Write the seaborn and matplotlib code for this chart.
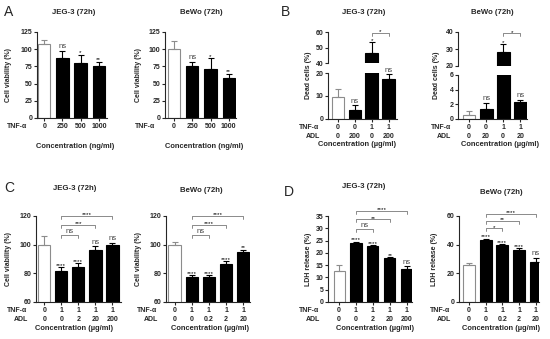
import matplotlib
matplotlib.use("Agg")
import matplotlib.pyplot as plt
import numpy as np
import pandas as pd
import seaborn as sns

sns.set_style("ticks")
plt.rcParams["font.family"] = ["Liberation Sans", "DejaVu Sans"]
plt.rcParams["font.weight"] = "bold"
plt.rcParams["axes.linewidth"] = 0.8

W, H = 550, 339
BLACK = "#000000"
WHITE = "#ffffff"
GRAY = "#8c8c8c"
SIGCOL = "#444444"

# ---------------- data ----------------
# A: TNF-alpha dose response (cell viability %)
A_TNF = ["0", "250", "500", "1000"]
A_JEG_VAL = [108, 86.5, 80, 76]
A_JEG_ERR = [6, 10.5, 12, 6]
A_BEWO_VAL = [100, 75, 71.5, 58.5]
A_BEWO_ERR = [12, 7, 15, 6]
A_SIG = ["", "ns", "*", "**"]

# B: dead cells (%)
B_TNF = ["0", "0", "1", "1"]
B_JEG_ADL = ["0", "200", "0", "200"]
B_BEWO_ADL = ["0", "20", "0", "20"]
B_JEG_VAL = [9.6, 4.1, 46.5, 17.2]
B_JEG_ERR = [3.6, 1.8, 6.8, 2.2]
B_BEWO_VAL = [0.5, 1.3, 28.5, 2.25]
B_BEWO_ERR = [0.55, 0.9, 4.3, 0.35]
B_SIG = ["", "ns", "*", "ns"]
B_JEG_BRACKETS = [(2, 3, "*", 59.4)]
B_BEWO_BRACKETS = [(2, 3, "*", 39.2)]

# C: cell viability (%) with ADL
C_TNF = ["0", "1", "1", "1", "1"]
C_JEG_ADL = ["0", "0", "2", "20", "200"]
C_BEWO_ADL = ["0", "0", "0.2", "2", "20"]
C_JEG_VAL = [100, 81.9, 84.7, 96.6, 100]
C_JEG_ERR = [6, 2.7, 2.4, 2.2, 1.5]
C_JEG_SIG = ["", "****", "****", "ns", "ns"]
C_JEG_BRACKETS = [(1, 2, "ns", 106.5), (1, 3, "***", 114), (1, 4, "****", 120)]
C_BEWO_VAL = [100, 77.4, 77.2, 86.7, 94.9]
C_BEWO_ERR = [1.9, 1.6, 1.4, 1.7, 1.6]
C_BEWO_SIG = ["", "****", "****", "****", "**"]
C_BEWO_BRACKETS = [(1, 2, "ns", 106.5), (1, 3, "****", 114), (1, 4, "****", 120)]

# D: LDH release (%)
D_JEG_VAL = [12.6, 24, 22.7, 17.9, 13.6]
D_JEG_ERR = [2.3, 0.6, 0.6, 0.4, 0.9]
D_JEG_SIG = ["", "****", "****", "**", "ns"]
D_JEG_BRACKETS = [(1, 2, "ns", 29.6), (1, 3, "**", 33.6), (1, 4, "****", 37)]
D_BEWO_VAL = [25.6, 43.3, 39.5, 36.5, 28.1]
D_BEWO_ERR = [1.8, 0.9, 1.0, 0.9, 2.4]
D_BEWO_SIG = ["", "****", "****", "****", "ns"]
D_BEWO_BRACKETS = [(1, 2, "*", 51.4), (1, 3, "**", 56.5), (1, 4, "****", 61.6)]

fig = plt.figure(figsize=(W / 100, H / 100), dpi=100)


def px_axes(x0, y0, x1, y1):
    return fig.add_axes([x0 / W, 1 - y1 / H, (x1 - x0) / W, (y1 - y0) / H])


def ftext(x, y, s, **kw):
    fig.text(x / W, 1 - y / H, s, **kw)


def style_axis(ax, xlim, ylim, yticks):
    ax.set_xlim(*xlim)
    ax.set_ylim(*ylim)
    ax.set_yticks(yticks)
    ax.set_xlabel("")
    ax.set_ylabel("")
    sns.despine(ax=ax)
    ax.tick_params(axis="y", direction="out", length=2.2, width=0.8, pad=1.2, labelsize=5)
    ax.tick_params(axis="x", direction="out", length=2, width=0.8, pad=1.8, labelsize=5)


def draw_bars(ax, values, errors, width):
    n = len(values)
    df = pd.DataFrame({"group": [f"g{i}" for i in range(n)], "value": values})
    sns.barplot(data=df, x="group", y="value", hue="group", palette=[WHITE] + [BLACK] * (n - 1),
                legend=False, width=width, errorbar=None, saturation=1, linewidth=0.8, ax=ax)
    for i, patch in enumerate(ax.patches):
        patch.set_edgecolor(GRAY if i == 0 else BLACK)
    for i in range(n):
        ax.errorbar(i, values[i], yerr=[[0], [errors[i]]], fmt="none",
                    ecolor=GRAY if i == 0 else BLACK, elinewidth=0.8, capsize=2.4, capthick=0.8)


def sig_text(ax, x, y, s, dy=0.6):
    if not s:
        return
    if s == "ns":
        ax.annotate(s, (x, y), xytext=(0, dy), textcoords="offset points", ha="center", va="bottom",
                    fontsize=5.5, fontweight="normal", color=SIGCOL, annotation_clip=False)
    else:
        ax.annotate(s, (x, y), xytext=(0, dy - 1.2), textcoords="offset points", ha="center",
                    va="bottom", fontsize=4.6, fontweight="normal", color=BLACK, annotation_clip=False)


def brackets(ax, items, height_px):
    lo, hi = ax.get_ylim()
    drop = (hi - lo) / height_px * 3
    for i, j, s, y in items:
        ax.plot([i, i, j, j], [y - drop, y, y, y - drop], color="#777777", lw=0.6, clip_on=False)
        sig_text(ax, (i + j) / 2, y, s, dy=0.2)


def set_ticks(ax, tnf, adl, header_dx):
    n = len(tnf)
    ax.set_xticks(range(n))
    if adl is None:
        labels = tnf
        header = "TNF-α"
    else:
        labels = [f"{t}\n{a}" for t, a in zip(tnf, adl)]
        header = "TNF-α\nADL"
    ax.set_xticklabels(labels, linespacing=1.25)
    ax.annotate(header, (0, 0), xycoords="axes fraction", xytext=(-header_dx, -3.8),
                textcoords="offset points", ha="right", va="top", fontsize=5, linespacing=1.25)


def simple_panel(box, xlim, ylim, yticks, values, errors, sigs, width, tnf, adl,
                 header_dx, brk=None):
    ax = px_axes(*box)
    draw_bars(ax, values, errors, width)
    style_axis(ax, xlim, ylim, yticks)
    for i, (v, e, s) in enumerate(zip(values, errors, sigs)):
        sig_text(ax, i, v + e, s)
    if brk:
        brackets(ax, brk, box[3] - box[1])
    set_ticks(ax, tnf, adl, header_dx)
    return ax


def broken_panel(top_box, bot_box, xlim, top_ylim, top_ticks, bot_ylim, bot_ticks,
                 values, errors, sigs, width, tnf, adl, header_dx, brk):
    ax_t = px_axes(*top_box)
    ax_b = px_axes(*bot_box)
    for ax in (ax_t, ax_b):
        draw_bars(ax, values, errors, width)
    style_axis(ax_t, xlim, top_ylim, top_ticks)
    style_axis(ax_b, xlim, bot_ylim, bot_ticks)
    ax_t.spines["bottom"].set_visible(False)
    ax_t.tick_params(axis="x", bottom=False, labelbottom=False)
    for i, (v, e, s) in enumerate(zip(values, errors, sigs)):
        target = ax_b if v + e <= bot_ylim[1] else ax_t
        sig_text(target, i, v + e, s)
    brackets(ax_t, brk, top_box[3] - top_box[1])
    set_ticks(ax_b, tnf, adl, header_dx)
    return ax_t, ax_b


# ---- row 1 ----
simple_panel((37, 32, 107, 118), (-0.4, 3.45), (0, 125), range(0, 126, 25),
             A_JEG_VAL, A_JEG_ERR, A_SIG, 0.68, A_TNF, None, 7)
simple_panel((165, 32, 236, 118), (-0.5, 3.4), (0, 125), range(0, 126, 25),
             A_BEWO_VAL, A_BEWO_ERR, A_SIG, 0.68, A_TNF, None, 7)
broken_panel((328, 32, 397, 63), (328, 73, 397, 119), (-0.6, 3.5), (40, 60), [40, 50, 60],
             (0, 20), [0, 10, 20], B_JEG_VAL, B_JEG_ERR, B_SIG, 0.75, B_TNF, B_JEG_ADL, 6,
             B_JEG_BRACKETS)
broken_panel((458, 32, 527, 66), (458, 75, 527, 119), (-0.65, 3.4), (20, 40), [20, 30, 40],
             (0, 6), [0, 2, 4, 6], B_BEWO_VAL, B_BEWO_ERR, B_SIG, 0.75, B_TNF, B_BEWO_ADL, 5,
             B_BEWO_BRACKETS)

# ---- row 2 ----
simple_panel((36, 216, 121, 302), (-0.48, 4.5), (60, 120), [60, 80, 100, 120],
             C_JEG_VAL, C_JEG_ERR, C_JEG_SIG, 0.72, C_TNF, C_JEG_ADL, 6, C_JEG_BRACKETS)
simple_panel((166, 216, 250, 302), (-0.5, 4.4), (60, 120), [60, 80, 100, 120],
             C_BEWO_VAL, C_BEWO_ERR, C_BEWO_SIG, 0.72, C_TNF, C_BEWO_ADL, 6, C_BEWO_BRACKETS)
simple_panel((328, 216, 412, 302), (-0.65, 4.3), (0, 35), range(0, 36, 5),
             D_JEG_VAL, D_JEG_ERR, D_JEG_SIG, 0.65, C_TNF, C_JEG_ADL, 6, D_JEG_BRACKETS)
simple_panel((459, 216, 539, 302), (-0.6, 4.2), (0, 60), [0, 20, 40, 60],
             D_BEWO_VAL, D_BEWO_ERR, D_BEWO_SIG, 0.72, C_TNF, C_BEWO_ADL, 6, D_BEWO_BRACKETS)

# ---- titles, axis labels, panel letters ----
title_kw = dict(ha="center", va="center", fontsize=5.6)
for x, y, s in [(74, 13, "JEG-3 (72h)"), (201, 13, "BeWo (72h)"),
                (364, 13, "JEG-3 (72h)"), (492, 13, "BeWo (72h)"),
                (75, 189, "JEG-3 (72h)"), (201, 190, "BeWo (72h)"),
                (364, 187, "JEG-3 (72h)"), (501, 192, "BeWo (72h)")]:
    ftext(x, y, s, **title_kw)

xl_kw = dict(ha="center", va="center", fontsize=5.4)
for x, y, s in [(75, 146, "Concentration (ng/ml)"), (204, 146, "Concentration (ng/ml)"),
                (357, 145, "Concentration (µg/ml)"), (500, 145, "Concentration (µg/ml)"),
                (74, 329, "Concentration (µg/ml)"), (210, 329, "Concentration (µg/ml)"),
                (375, 329, "Concentration (µg/ml)"), (501, 329, "Concentration (µg/ml)")]:
    ftext(x, y, s, **xl_kw)

yl_kw = dict(ha="center", va="center", rotation=90, fontsize=5)
for x, y, s in [(9, 75, "Cell viability (%)"), (138, 75, "Cell viability (%)"),
                (308, 75, "Dead cells (%)"), (437, 75, "Dead cells (%)"),
                (9, 259, "Cell viability (%)"), (138, 259, "Cell viability (%)"),
                (308, 259, "LDH release (%)"), (435, 259, "LDH release (%)")]:
    ftext(x, y, s, **yl_kw)

for x, y, s in [(9, 12, "A"), (285, 12, "B"), (9, 188, "C"), (289, 192, "D")]:
    ftext(x, y, s, ha="center", va="center", fontsize=10, fontweight="normal")

fig.savefig("out.png", dpi=100)
